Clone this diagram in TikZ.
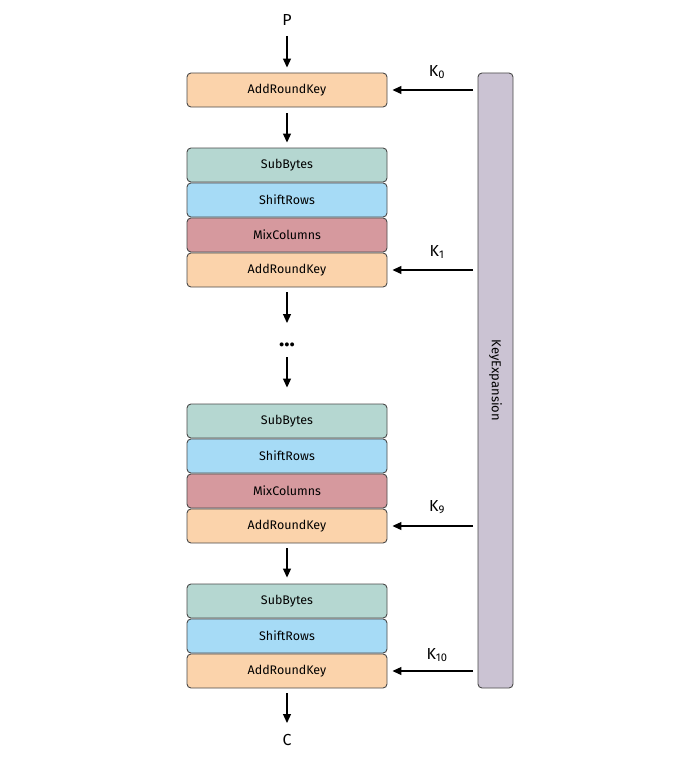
\documentclass[tikz,border=0pt]{standalone}
\usepackage{fontspec}
\setmainfont{Fira Sans}
\usetikzlibrary{arrows.meta}
\definecolor{ark}{HTML}{FBD3AB}
\definecolor{sb}{HTML}{B5D7D1}
\definecolor{sr}{HTML}{A6DBF6}
\definecolor{mc}{HTML}{D6999E}
\definecolor{ke}{HTML}{CBC3D3}
\definecolor{edge}{HTML}{4A4A4A}
\tikzset{
  stage/.style={draw=edge, line width=0.9bp, rounded corners=4bp, minimum width=200bp, minimum height=34bp, inner sep=0pt, font=\fontsize{12.5}{14}\selectfont},
  arr/.style={-{Triangle[length=9bp,width=8bp]}, line width=1.2bp, black},
  lab/.style={font=\fontsize{16}{18}\selectfont, inner sep=0pt},
}
\begin{document}
\begin{tikzpicture}[x=1bp,y=-1bp]
\useasboundingbox (0,0) rectangle (700,766);
% first
\node[lab] (p) at (287,20) {P};
\node[stage, fill=ark] (a0) at (287,90) {AddRoundKey};
% round 1
\node[stage, fill=sb] (s1) at (287,165) {SubBytes};
\node[stage, fill=sr] (r1) at (287,200) {ShiftRows};
\node[stage, fill=mc] (m1) at (287,235) {MixColumns};
\node[stage, fill=ark] (a1) at (287,270) {AddRoundKey};
\node[font=\fontsize{22}{22}\selectfont\bfseries, inner sep=0pt, anchor=base] (dots) at (287,346) {...};
\coordinate (dtop) at (287,323);
\coordinate (dbot) at (287,357);
% round 9
\node[stage, fill=sb] (s9) at (287,421) {SubBytes};
\node[stage, fill=sr] (r9) at (287,456) {ShiftRows};
\node[stage, fill=mc] (m9) at (287,491) {MixColumns};
\node[stage, fill=ark] (a9) at (287,526) {AddRoundKey};
% round 10
\node[stage, fill=sb] (s10) at (287,601) {SubBytes};
\node[stage, fill=sr] (r10) at (287,636) {ShiftRows};
\node[stage, fill=ark] (a10) at (287,671) {AddRoundKey};
\node[lab] (c) at (287,740) {C};
% key expansion
\node[draw=edge, line width=0.9bp, rounded corners=4bp, fill=ke, minimum width=35bp, minimum height=615bp, inner sep=0pt] (ke) at (495.5,380.5) {};
\node[rotate=-90, font=\fontsize{13}{15}\selectfont] at (ke.center) {KeyExpansion};
% vertical arrows
\draw[arr] (287,36) -- ([yshift=5bp]a0.north);
\draw[arr] ([yshift=-6bp]a0.south) -- ([yshift=5bp]s1.north);
\draw[arr] ([yshift=-5bp]a1.south) -- (dtop);
\draw[arr] (dbot) -- ([yshift=16bp]s9.north);
\draw[arr] ([yshift=-5bp]a9.south) -- ([yshift=6bp]s10.north);
\draw[arr] ([yshift=-5bp]a10.south) -- (287,723);
% key arrows
\coordinate (k0s) at (473,90);
\coordinate (k1s) at (473,270);
\coordinate (k9s) at (473,526);
\coordinate (k10s) at (473,671);
\draw[arr] (k0s) -- ([xshift=5bp]a0.east);
\draw[arr] (k1s) -- ([xshift=5bp]a1.east);
\draw[arr] (k9s) -- ([xshift=5bp]a9.east);
\draw[arr] (k10s) -- ([xshift=5bp]a10.east);
\node[lab] (l0) at (437,72) {K\textsubscript{0}};
\node[lab] (l1) at (437,252) {K\textsubscript{1}};
\node[lab] (l9) at (437,507) {K\textsubscript{9}};
\node[lab] (l10) at (437,655) {K\textsubscript{10}};
\end{tikzpicture}
\end{document}
